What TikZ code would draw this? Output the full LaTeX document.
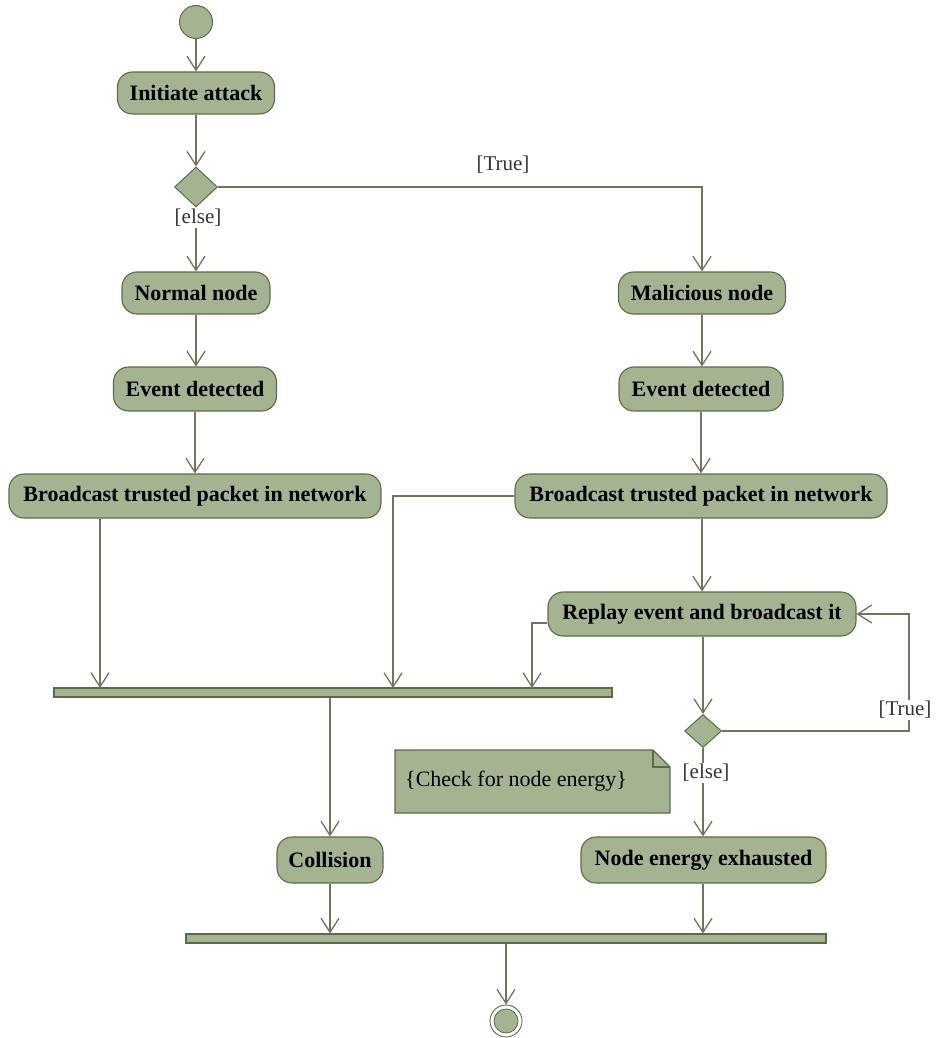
\documentclass[tikz,border=0pt]{standalone}
\usepackage{fontspec}
\setmainfont{Liberation Serif}
\usetikzlibrary{arrows.meta,shapes.geometric,calc}
\definecolor{fillc}{RGB}{164,180,145}
\definecolor{bord}{RGB}{95,105,75}
\definecolor{linec}{RGB}{112,118,92}
\begin{document}
\begin{tikzpicture}[x=1pt,y=-1pt,
  act/.style={draw=bord, fill=fillc, rounded corners=15pt, line width=1.1pt, minimum height=44pt, inner sep=0pt, font=\bfseries\fontsize{22}{24}\selectfont},
  forkbar/.style={draw=bord, fill=fillc, inner sep=0pt, minimum height=9pt, line width=1.1pt},
  dec/.style={diamond, draw=bord, fill=fillc, inner sep=0pt, line width=1pt},
  flow/.style={draw=linec, line width=1.3pt, -{Straight Barb[length=14pt,width=18pt,line width=1.3pt]}},
  lbl/.style={font=\fontsize{21}{24}\selectfont, text=black!80, fill=white, inner sep=1pt}
]
\useasboundingbox (0,0) rectangle (935,1038);

% nodes
\node[circle, draw=bord, fill=fillc, line width=1pt, minimum size=33pt, inner sep=0pt] (start) at (196,22) {};
\node[act, minimum width=157pt, minimum height=42pt] (init) at (196,93) {Initiate attack};
\node[dec, minimum width=43pt, minimum height=40pt] (d1) at (196,187) {};
\node[act, minimum width=148pt, minimum height=42pt] (normal) at (196,293) {Normal node};
\node[act, minimum width=167pt, minimum height=42pt] (mal) at (702,293) {Malicious node};
\node[act, minimum width=163pt] (ev1) at (195,389) {Event detected};
\node[act, minimum width=164pt] (ev2) at (701,389) {Event detected};
\node[act, minimum width=372pt] (bc1) at (195,496) {Broadcast trusted packet in network};
\node[act, minimum width=372pt] (bc2) at (701,496) {Broadcast trusted packet in network};
\node[act, minimum width=308pt] (rep) at (702,614) {Replay event and broadcast it};
\node[forkbar, minimum width=558pt] (fork1) at (333,692.5) {};
\node[dec, minimum width=37pt, minimum height=33pt] (d2) at (703,731) {};
\node[act, minimum width=106pt, minimum height=46pt] (col) at (330,860) {Collision};
\node[act, minimum width=245pt, minimum height=46pt] (nee) at (703.5,860) {Node energy exhausted};
\node[forkbar, minimum width=640pt] (fork2) at (506,938.5) {};
\node[circle, draw=bord, fill=white, line width=0.9pt, minimum size=32pt, inner sep=0pt] (fin) at (506,1021) {};
\node[circle, draw=bord, fill=fillc, line width=0.8pt, minimum size=24pt, inner sep=0pt] (finin) at (fin) {};

% note
\draw[draw=bord, fill=fillc, line width=1.1pt] (395,750) -- (653,750) -- (670,767) -- (670,813) -- (395,813) -- cycle;
\draw[draw=bord, line width=1.1pt] (653,750) -- (653,767) -- (670,767);
\node[anchor=west, font=\fontsize{22}{24}\selectfont, inner sep=0pt] (note) at (405,781) {\{Check for node energy\}};

% helper coordinates
\coordinate (f1a) at (100,688);
\coordinate (f1b) at (393,688);
\coordinate (f1c) at (532,688);
\coordinate (lp) at (909,731);

% connectors
\draw[flow] (start) -- (init);
\draw[flow] (init) -- (d1);
\draw[flow] (d1) -- (normal);
\draw[flow] (d1.east) -| (mal.north);
\draw[flow] (normal.south) -- (normal.south |- ev1.north);
\draw[flow] (ev1.south) -- (ev1.south |- bc1.north);
\draw[flow] (mal.south) -- (mal.south |- ev2.north);
\draw[flow] (ev2.south) -- (ev2.south |- bc2.north);
\draw[flow] (bc1.south -| f1a) -- (f1a);
\draw[flow] (bc2.west) -| (f1b);
\draw[flow] (bc2.south -| rep.north) -- (rep.north);
\draw[flow] ([yshift=-9pt]rep.west) -| (f1c);
\draw[flow] (rep.south -| d2.north) -- (d2.north);
\draw[flow] (d2.east) -- (lp) |- (rep.east);
\draw[flow] (d2.south) -- (d2.south |- nee.north);
\draw[flow] (fork1.south -| col.north) -- (col.north);
\draw[flow] (col.south) -- (col.south |- fork2.north);
\draw[flow] (nee.south -| d2.south) -- (d2.south |- fork2.north);
\draw[flow] (fork2.south -| fin.north) -- (fin.north);

% labels
\node[lbl] (lelse1) at (198,218) {[else]};
\node[lbl] (ltrue1) at (503,165) {[True]};
\node[lbl] (ltrue2) at (905,710) {[True]};
\node[lbl] (lelse2) at (706,773) {[else]};
\end{tikzpicture}
\end{document}
